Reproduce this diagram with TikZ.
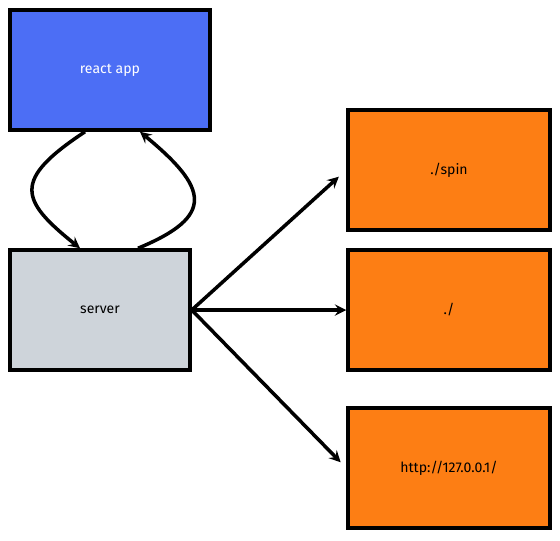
\documentclass[tikz,border=0pt]{standalone}
\usepackage{xcolor}
\usepackage{fontspec}
\setsansfont{Fira Sans}
\usepackage{tikz}
\usetikzlibrary{shapes.geometric, arrows}
\definecolor{appblue}{HTML}{4C6EF5}
\definecolor{servergray}{HTML}{CED4DA}
\definecolor{routeorange}{HTML}{FD7E14}
\tikzstyle{box} = [draw=black, line width=2.5pt, minimum height=3cm, font=\sffamily]
\tikzstyle{arrow} = [line width=2.5pt,->,>=stealth]

\begin{document}
\begin{tikzpicture}
	\useasboundingbox (0,0) rectangle (14,-13.5);
	% Boxes:
	\node [box, fill=appblue, text=white, minimum width=5cm] (app) at (2.75,-1.75) {react app};
	\node [box, fill=servergray, minimum width=4.5cm] (server) at (2.5,-7.75) {server};
	\node [box, fill=routeorange, minimum width=5.05cm] (spin) at (11.225,-4.25) {./spin};
	\node [box, fill=routeorange, minimum width=5.05cm] (root) at (11.225,-7.75) {./};
	\node [box, fill=routeorange, minimum width=5.05cm] (local) at (11.225,-11.7) {http://127.0.0.1/};

	% Between app and server:
	\draw [arrow] ([xshift=-0.625cm]app.south) .. controls (0.3,-4.5) and (0.5,-5.0) .. ([xshift=-0.5cm]server.north);
	\draw [arrow] ([xshift=0.95cm]server.north) .. controls (5.4,-5.4) and (5.2,-4.7) .. ([xshift=0.75cm]app.south);

	% Routes:
	\draw [arrow, shorten >=0.25cm] (server.east) -- (spin.west);
	\draw [arrow] (server.east) -- (root.west);
	\draw [arrow, shorten >=0.2cm] (server.east) -- (local.west);
\end{tikzpicture}
\end{document}
